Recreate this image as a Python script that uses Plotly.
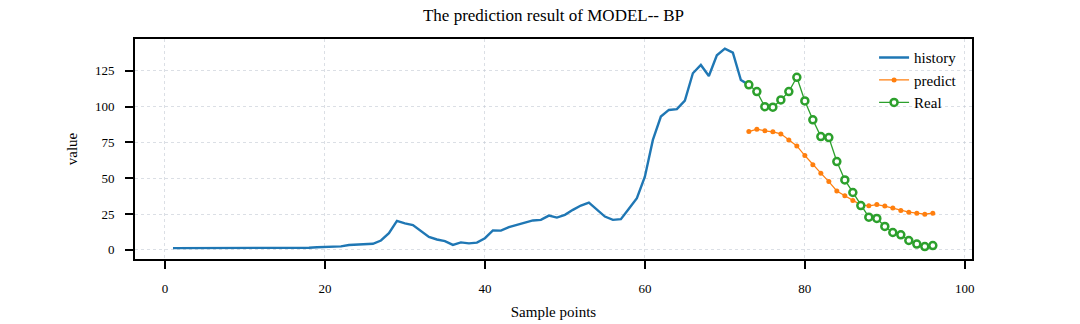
import plotly.graph_objects as go

# Observed history (samples 1..72)
history = [
    1.2, 1.2, 1.2, 1.2, 1.2, 1.2, 1.2, 1.2, 1.2, 1.2, 1.2, 1.2, 1.2, 1.2, 1.2, 1.2,
    1.3, 1.5, 1.8, 1.9, 2.1, 2.4, 3.4, 3.8, 3.8, 4.2, 6.5, 11.6, 20.2, 18.4,
    17.3, 13.4, 9.0, 7.2, 6.1, 3.4, 5.2, 4.5, 5.0, 8.1, 13.5, 13.4, 15.8, 17.4,
    19.0, 20.5, 20.9, 23.9, 22.5, 24.4, 27.9, 30.9, 33.0, 27.9, 23.2, 20.9, 21.4,
    28.6, 36.0, 51.0, 76.7, 93.0, 97.6, 98.2, 104.1, 123.2, 129.0, 121.3, 135.7,
    140.4, 137.6, 118.5,
]

# Forecast window (samples 73..96)
predict = [
    82.5, 84.2, 83.0, 82.3, 80.9, 76.7, 72.5, 65.8, 59.3, 53.5, 47.6, 41.1,
    37.7, 34.4, 31.4, 30.7, 31.6, 30.5, 29.1, 27.4, 26.3, 25.6, 24.9, 25.6,
]
real = [
    115.1, 110.4, 99.9, 99.5, 104.6, 110.4, 120.4, 103.9, 90.7, 79.0, 78.3, 61.6,
    48.8, 40.0, 30.9, 22.8, 21.9, 16.3, 12.1, 10.5, 6.5, 4.0, 2.3, 3.0,
]

history_x = list(range(1, len(history) + 2))
history_line = history + [real[0]]  # joins the history curve to the first real point
forecast_x = list(range(len(history) + 1, len(history) + 1 + len(real)))

x_ticks = [0, 20, 40, 60, 80, 100]
y_ticks = [0, 25, 50, 75, 100, 125]

FONT = "Liberation Serif"

fig = go.Figure()
fig.add_trace(go.Scatter(
    x=history_x, y=history_line, mode="lines", name="history",
    line=dict(color="#1f77b4", width=2.4),
))
fig.add_trace(go.Scatter(
    x=forecast_x, y=predict, mode="lines+markers", name="predict",
    line=dict(color="#ff7f0e", width=1.2),
    marker=dict(color="#ff7f0e", size=5),
))
fig.add_trace(go.Scatter(
    x=forecast_x, y=real, mode="lines+markers", name="Real",
    line=dict(color="#2ca02c", width=1.3),
    marker=dict(color="white", size=7, line=dict(color="#2ca02c", width=2.5)),
))

axis_common = dict(
    showline=True, linecolor="black", linewidth=2, mirror=True,
    ticks="outside", ticklen=8, tickwidth=1.5, tickcolor="black",
    showgrid=True, gridcolor="rgba(195,202,212,0.6)", gridwidth=1, griddash="dot",
    zeroline=False, automargin=False,
    tickfont=dict(family=FONT, size=13, color="black"),
)

fig.update_xaxes(
    range=[-3.75, 100.9], tickvals=x_ticks,
    title=dict(text="Sample points", font=dict(family=FONT, size=15, color="black"), standoff=12),
    ticklabelstandoff=8,
    **axis_common,
)
fig.update_yaxes(
    range=[-6.4, 147.1], tickvals=y_ticks,
    title=dict(text="value", font=dict(family=FONT, size=15, color="black"), standoff=14),
    ticklabelstandoff=8,
    **axis_common,
)

fig.update_layout(
    width=1080, height=324,
    margin=dict(l=135, r=108, t=39, b=65, autoexpand=False),
    paper_bgcolor="white", plot_bgcolor="white",
    title=dict(
        text="The prediction result of MODEL-- BP",
        x=0.5, xref="paper", y=0.955, yref="container", yanchor="middle",
        font=dict(family=FONT, size=17, color="black"),
    ),
    legend=dict(
        x=0.883, y=0.99, xanchor="left", yanchor="top",
        bgcolor="rgba(0,0,0,0)", borderwidth=0,
        font=dict(family=FONT, size=15, color="black"),
        tracegroupgap=0, itemwidth=30,
    ),
    showlegend=True,
)

fig.write_html("out.html")
